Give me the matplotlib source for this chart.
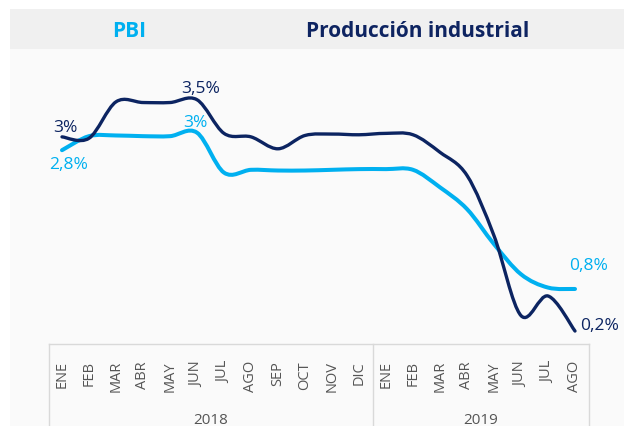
import matplotlib
matplotlib.use("Agg")
import matplotlib.pyplot as plt
from matplotlib.path import Path
from matplotlib.patches import PathPatch, Rectangle
from matplotlib.lines import Line2D

plt.rcParams['font.family'] = ['Open Sans', 'DejaVu Sans']

# ---------------- data ----------------
months = ["ENE", "FEB", "MAR", "ABR", "MAY", "JUN", "JUL", "AGO", "SEP", "OCT", "NOV", "DIC",
          "ENE", "FEB", "MAR", "ABR", "MAY", "JUN", "JUL", "AGO"]
years = ["2018", "2019"]
year_counts = [12, 8]

pbi = [2.78, 2.98, 2.99, 2.98, 2.98, 3.03, 2.46, 2.50, 2.49, 2.49, 2.50, 2.51,
       2.51, 2.50, 2.25, 1.94, 1.44, 1.01, 0.82, 0.80]
prod = [2.97, 2.95, 3.47, 3.46, 3.46, 3.50, 3.02, 2.97, 2.80, 2.99, 3.01, 3.00,
        3.02, 3.00, 2.75, 2.42, 1.56, 0.42, 0.70, 0.20]

series_names = ["PBI", "Producción industrial"]
labels_pbi = {0: "2,8%", 5: "3%", 19: "0,8%"}
labels_prod = {0: "3%", 5: "3,5%", 19: "0,2%"}

C_PBI = "#00B0F0"
C_PROD = "#0C2461"
C_TXT = "#555555"

W, H = 624, 427
fig = plt.figure(figsize=(W / 100, H / 100), dpi=100)
fig.patch.set_facecolor("white")

def fx(px):
    return px / W

def fy(py):
    return (H - py) / H

# backgrounds
fig.add_artist(Rectangle((fx(10), 0), fx(W) - fx(10), fy(50), transform=fig.transFigure,
                         facecolor="#FAFAFA", edgecolor="none", zorder=0))
fig.add_artist(Rectangle((fx(10), fy(50)), fx(W) - fx(10), fy(10) - fy(50), transform=fig.transFigure,
                         facecolor="#F0F0F0", edgecolor="none", zorder=0))

# header texts
fig.text(fx(129.5), fy(36.7), series_names[0], color=C_PBI, fontsize=15, fontweight="bold",
         ha="center", va="baseline")
fig.text(fx(418), fy(36.7), series_names[1], color="#0E2461", fontsize=15, fontweight="bold",
         ha="center", va="baseline")

# main axes
left_px, right_px = 48.5, 588.5
top_px, bot_px = 60, 345
ax = fig.add_axes([fx(left_px), fy(bot_px), fx(right_px) - fx(left_px), fy(top_px) - fy(bot_px)])
ax.patch.set_alpha(0)
n = len(months)
ax.set_xlim(-0.5, n - 0.5)
ax.set_ylim(0.015, 4.081)
for s in ax.spines.values():
    s.set_visible(False)
ax.set_yticks([])
ax.set_xticks(range(n))
ax.set_xticklabels(months, rotation=90, fontsize=10.5, color=C_TXT, va="top")
ax.tick_params(axis="x", length=0, pad=11.5)


def smooth_path(xs, ys):
    verts = [(xs[0], ys[0])]
    codes = [Path.MOVETO]
    m = len(xs)
    for i in range(m - 1):
        p0 = i - 1 if i > 0 else i
        p3 = i + 2 if i + 2 < m else i + 1
        c1 = (xs[i] + (xs[i + 1] - xs[p0]) / 6, ys[i] + (ys[i + 1] - ys[p0]) / 6)
        c2 = (xs[i + 1] - (xs[p3] - xs[i]) / 6, ys[i + 1] - (ys[p3] - ys[i]) / 6)
        verts += [c1, c2, (xs[i + 1], ys[i + 1])]
        codes += [Path.CURVE4] * 3
    return Path(verts, codes)

xs = list(range(n))
ax.add_patch(PathPatch(smooth_path(xs, pbi), fill=False, edgecolor=C_PBI, lw=2.9,
                       capstyle="round", joinstyle="round", zorder=3))
ax.add_patch(PathPatch(smooth_path(xs, prod), fill=False, edgecolor=C_PROD, lw=2.4,
                       capstyle="round", joinstyle="round", zorder=4))

# data labels (offsets in pixels)
off_pbi = {0: (7, -14), 5: (-2, 11), 19: (14, 24)}
off_prod = {0: (3, 10), 5: (4, 11.7), 19: (25, 5.7)}
for i, t in labels_pbi.items():
    ax.annotate(t, (i, pbi[i]), xytext=off_pbi[i], textcoords="offset pixels",
                ha="center", va="center", fontsize=12.5, color=C_PBI, annotation_clip=False)
for i, t in labels_prod.items():
    ax.annotate(t, (i, prod[i]), xytext=off_prod[i], textcoords="offset pixels",
                ha="center", va="center", fontsize=12.5, color=C_PROD, annotation_clip=False)

# category box
sep_px = left_px + year_counts[0] * (right_px - left_px) / n
lc = "#D9D9D9"
fig.add_artist(Line2D([fx(left_px), fx(right_px)], [fy(bot_px), fy(bot_px)], transform=fig.transFigure, color=lc, lw=1))
for xp in (left_px, sep_px, right_px):
    fig.add_artist(Line2D([fx(xp), fx(xp)], [fy(bot_px), 0], transform=fig.transFigure, color=lc, lw=1))

# year labels
fig.text(fx((left_px + sep_px) / 2), fy(421), years[0], fontsize=11, color=C_TXT, ha="center", va="center")
fig.text(fx((sep_px + right_px) / 2), fy(421), years[1], fontsize=11, color=C_TXT, ha="center", va="center")

fig.savefig("out.png", dpi=100)
